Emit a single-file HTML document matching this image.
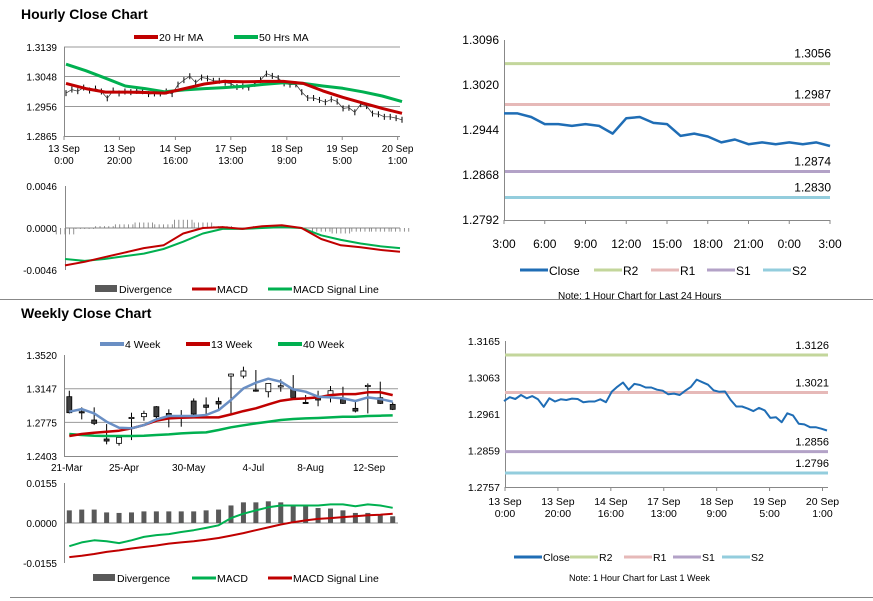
<!DOCTYPE html>
<html><head><meta charset="utf-8"><style>
html,body{margin:0;padding:0;background:#fff;}
svg{display:block;font-family:"Liberation Sans",sans-serif;}
</style></head><body>
<svg id="svg" width="873" height="601" viewBox="0 0 873 601" xmlns="http://www.w3.org/2000/svg">
<text x="21" y="19" font-size="14" font-weight="bold">Hourly Close Chart</text>
<text x="21" y="318" font-size="14" font-weight="bold">Weekly Close Chart</text>
<line x1="0" y1="299.5" x2="873" y2="299.5" stroke="#888"/>
<line x1="10" y1="597.5" x2="873" y2="597.5" stroke="#888"/>
</svg>
<script>
// ===== data =====
const hourlyClose=[1.2997,1.3008,1.3003,1.3014,1.3005,1.3011,1.3002,1.2981,1.3005,1.2996,1.3002,1.3000,1.3004,1.3003,1.2994,1.2996,1.2996,1.3002,1.2994,1.3023,1.3037,1.3049,1.3029,1.3045,1.3042,1.3035,1.3035,1.3029,1.3026,1.3016,1.3018,1.3014,1.3026,1.3037,1.3057,1.3050,1.3043,1.3027,1.3023,1.3024,1.3000,1.2982,1.2982,1.2976,1.2969,1.2978,1.2971,1.2950,1.2952,1.2938,1.2963,1.2957,1.2934,1.2932,1.2924,1.2924,1.2920,1.2915];
const ma20=[1.3027,1.3011,1.3000,1.3000,1.2999,1.2997,1.3011,1.3025,1.3033,1.3032,1.3033,1.3033,1.3027,1.3004,1.2984,1.2967,1.2950,1.2935];
const ma50=[1.3086,1.3066,1.3043,1.3019,1.3011,1.3001,1.3007,1.3011,1.3014,1.3018,1.3024,1.3029,1.3027,1.3019,1.3012,1.3001,1.2988,1.2971];
const hMacd=[-0.0041,-0.0037,-0.0032,-0.0027,-0.0022,-0.0019,-0.0006,0.0000,0.0001,-0.0001,0.0002,0.0003,0.0000,-0.0012,-0.0019,-0.0021,-0.0024,-0.0026];
const hSignal=[-0.0034,-0.0036,-0.0034,-0.0031,-0.0028,-0.0023,-0.0015,-0.0006,-0.0001,-0.0001,0.0000,0.0001,0.0000,-0.0008,-0.0013,-0.0017,-0.0020,-0.0022];
const hDiv=[-0.0007,-0.0001,0.0002,0.0004,0.0006,0.0004,0.0009,0.0006,0.0002,0.0000,0.0002,0.0002,0.0000,-0.0004,-0.0006,-0.0004,-0.0004,-0.0004];
const hourLabels=[["13 Sep","0:00"],["13 Sep","20:00"],["14 Sep","16:00"],["17 Sep","13:00"],["18 Sep","9:00"],["19 Sep","5:00"],["20 Sep","1:00"]];
const hourTickIdx=[0,9.4,18.9,28.3,37.8,47.2,56.6];
const hPriceTicks=[1.3139,1.3048,1.2956,1.2865];
const hMacdTicks=[0.0046,0.0000,-0.0046];

const wOpen=[1.3059,1.2893,1.2801,1.2591,1.2543,1.2827,1.2838,1.2948,1.2874,1.2838,1.3011,1.2967,1.3007,1.3287,1.3287,1.3133,1.3114,1.3169,1.3140,1.2996,1.3048,1.3077,1.3029,1.2930,1.3177,1.3048,1.2974];
const wClose=[1.2882,1.2885,1.2764,1.2568,1.2609,1.2830,1.2874,1.2838,1.2838,1.2838,1.2867,1.2941,1.2978,1.3309,1.3343,1.3129,1.3206,1.3180,1.3051,1.2985,1.3022,1.3125,1.2985,1.2900,1.3184,1.2985,1.2919];
const wHigh=[1.3125,1.2941,1.2941,1.2756,1.2635,1.2882,1.2904,1.2955,1.2919,1.2911,1.3040,1.3051,1.3051,1.3317,1.3391,1.3354,1.3206,1.3251,1.3298,1.3077,1.3125,1.3177,1.3169,1.3013,1.3206,1.3225,1.2996];
const wLow=[1.2874,1.2808,1.2745,1.2532,1.2517,1.2579,1.2793,1.2819,1.2720,1.2727,1.2856,1.2856,1.2919,1.2874,1.3262,1.3114,1.3051,1.3114,1.3051,1.2978,1.2953,1.2996,1.2978,1.2885,1.2874,1.2978,1.2911];
const w4=[1.2893,1.2922,1.2874,1.2782,1.2716,1.2709,1.2745,1.2808,1.2845,1.2845,1.2845,1.2856,1.2911,1.3022,1.3151,1.3214,1.3258,1.3225,1.3140,1.3114,1.3059,1.3051,1.3040,1.3011,1.3051,1.3033,1.3003];
const w13=[1.2624,1.2646,1.2661,1.2672,1.2683,1.2709,1.2745,1.2793,1.2819,1.2826,1.2830,1.2830,1.2830,1.2863,1.2900,1.2930,1.2974,1.3015,1.3033,1.3040,1.3051,1.3077,1.3088,1.3088,1.3107,1.3107,1.3077];
const w40=[1.2646,1.2635,1.2627,1.2624,1.2624,1.2624,1.2627,1.2635,1.2642,1.2653,1.2661,1.2664,1.2690,1.2720,1.2742,1.2764,1.2782,1.2801,1.2812,1.2819,1.2823,1.2830,1.2838,1.2838,1.2845,1.2849,1.2852];
const wDiv=[0.0049,0.0052,0.0052,0.0041,0.0039,0.0041,0.0045,0.0045,0.0045,0.0045,0.0045,0.0049,0.0052,0.0068,0.0080,0.0080,0.0084,0.0080,0.0067,0.0065,0.0058,0.0056,0.0049,0.0039,0.0039,0.0032,0.0026];
const wMacd=[-0.0090,-0.0075,-0.0067,-0.0071,-0.0078,-0.0067,-0.0054,-0.0047,-0.0043,-0.0035,-0.0028,-0.0019,-0.0009,0.0019,0.0036,0.0049,0.0061,0.0068,0.0068,0.0068,0.0068,0.0072,0.0072,0.0065,0.0072,0.0068,0.0059];
const wSignal=[-0.0132,-0.0127,-0.0120,-0.0112,-0.0106,-0.0099,-0.0093,-0.0087,-0.0080,-0.0075,-0.0071,-0.0065,-0.0058,-0.0049,-0.0039,-0.0028,-0.0017,-0.0006,0.0003,0.0010,0.0016,0.0019,0.0023,0.0026,0.0030,0.0032,0.0036];
const weekLabels=["21-Mar","25-Apr","30-May","4-Jul","8-Aug","12-Sep"];
const weekTickIdx=[-0.2,4.4,9.6,14.8,19.4,24.1];
const wPriceTicks=[1.3520,1.3147,1.2775,1.2403];
const wMacdTicks=[0.0155,0.0000,-0.0155];

const dayClose=[1.2972,1.2972,1.2966,1.2954,1.2954,1.2951,1.2954,1.2951,1.2938,1.2964,1.2966,1.2956,1.2954,1.2934,1.2938,1.2933,1.2923,1.2928,1.2920,1.2923,1.2920,1.2923,1.2920,1.2923,1.2917];
const dayLabels=["3:00","6:00","9:00","12:00","15:00","18:00","21:00","0:00","3:00"];
const dayTicks=[1.3096,1.3020,1.2944,1.2868,1.2792];
const dayLevels=[1.3056,1.2987,1.2874,1.2830];
const weekLevels=[1.3126,1.3021,1.2856,1.2796];
const weekTicksR=[1.3165,1.3063,1.2961,1.2859,1.2757];
const levelNames=["R2","R1","S1","S2"];

// ===== helpers =====
const svg=document.getElementById('svg');
const NS='http://www.w3.org/2000/svg';
function mk(tag,attrs,parent){const e=document.createElementNS(NS,tag);for(const k in attrs)e.setAttribute(k,attrs[k]);(parent||svg).appendChild(e);return e;}
function lin(d0,d1,r0,r1){return v=>r0+(v-d0)*(r1-r0)/(d1-d0);}
function txt(x,y,s,size,anchor,fill){const t=mk('text',{x:x,y:y,'font-size':size,'text-anchor':anchor||'start',fill:fill||'#000'});t.textContent=s;return t;}
function poly(vals,xf,yf,color,w){const pts=vals.map((v,i)=>xf(i).toFixed(1)+','+yf(v).toFixed(1)).join(' ');return mk('polyline',{points:pts,fill:'none',stroke:color,'stroke-width':w,'stroke-linejoin':'round'});}
function legendItem(x,y,color,label,w,isBar){let sw;if(isBar){sw=mk('rect',{x:x,y:y-4,width:22,height:7,fill:'#595959'});}else{sw=mk('line',{x1:x,y1:y,x2:x+24,y2:y,stroke:color,'stroke-width':w||4});}


const t=txt(x+(isBar?24:25),y+4,label,10.5);

}
function ytick(x,y,s,size){const t=txt(x,y+4,s,size,'end');

}
const RED='#c00000',GREEN='#00b050',BLUE4='#6a8fc4',CLOSE='#1f6db5';
const LVLC=['#c3d69b','#e6b9b8','#b3a2c7','#93cddd'];

// ===== Hourly price (top-left) =====
{
const y=lin(1.3139,1.2865,47,136);
const xc=i=>64+i*(336/(hourlyClose.length-1))+2;
const xm=i=>64+i*(336/(ma20.length-1))+2;
hPriceTicks.forEach((v,k)=>{ytick(57,y(v),v.toFixed(4),10);
if(k<3){const g=mk('line',{x1:64,y1:y(v),x2:400,y2:y(v),stroke:'#999','stroke-width':1});

}});
const ax=mk('path',{d:'M64.5,47V136.5H400',fill:'none',stroke:'#888'});


hourTickIdx.forEach((ti,k)=>{const px=64+ti*(336/(hourlyClose.length-1));
const tk=mk('line',{x1:px,y1:136,x2:px,y2:140,stroke:'#888'});


const a=txt(px,152,hourLabels[k][0],10,'middle');
const b=txt(px,164,hourLabels[k][1],10,'middle');});
hourlyClose.forEach((v,i)=>{const b=mk('line',{x1:xc(i),y1:y(v)-3,x2:xc(i),y2:y(v)+3,stroke:'#000','stroke-width':1});

});
const cl=poly(hourlyClose,xc,y,'#333',0.7);
const g50=poly(ma50,xm,y,GREEN,3);
const r20=poly(ma20,xm,y,RED,3);
legendItem(134,37,RED,'20 Hr MA',4);
legendItem(234,37,GREEN,'50 Hrs MA',4);
}
// ===== Hourly MACD =====
{
const y=lin(0.0046,-0.0046,186,270);
const xm=i=>65+i*(335/(hMacd.length-1));
hMacdTicks.forEach(v=>ytick(57,y(v),v.toFixed(4),10));
const ax=mk('path',{d:'M65.5,186V270',fill:'none',stroke:'#888'});
const z=mk('line',{x1:65,y1:y(0),x2:400,y2:y(0),stroke:'#888'});
const step=335/(hDiv.length-1);
hDiv.forEach((v,i)=>{for(let s=-4;s<=4;s+=2){const px=xm(i)+s*step/9;
const b=mk('line',{x1:px,y1:y(0),x2:px,y2:y(v),stroke:'#777','stroke-width':0.8});

}});
const g=poly(hSignal,xm,y,GREEN,2);
const r=poly(hMacd,xm,y,RED,2);
legendItem(95,289,'#595959','Divergence',4,true);
legendItem(192,289,RED,'MACD',3);
legendItem(268,289,GREEN,'MACD Signal Line',3);
}
// ===== Weekly price =====
{
const y=lin(1.3520,1.2403,355,456);
const n=wOpen.length;const step=(392.7-69.3)/(n-1);
const x=i=>69.3+i*step;
wPriceTicks.forEach((v,k)=>{ytick(57,y(v),v.toFixed(4),10);
if(k>0&&k<3){const g=mk('line',{x1:64,y1:y(v),x2:398,y2:y(v),stroke:'#999'});}});
const ax=mk('path',{d:'M64.5,355V456.5H398',fill:'none',stroke:'#888'});
weekTickIdx.forEach((ti,k)=>{const t=txt(x(ti),471,weekLabels[k],10,'middle');});
for(let i=0;i<n;i++){
const w=mk('line',{x1:x(i),y1:y(wHigh[i]),x2:x(i),y2:y(wLow[i]),stroke:'#000'});


const top=Math.min(y(wOpen[i]),y(wClose[i])),h=Math.max(1.2,Math.abs(y(wOpen[i])-y(wClose[i])));
const up=wClose[i]>=wOpen[i];
const b=mk('rect',{x:x(i)-2.5,y:top,width:5,height:h,fill:up?'#fff':'#404040',stroke:'#000','stroke-width':0.8});

}
const g=poly(w40,x,y,GREEN,2.5);
const r=poly(w13,x,y,RED,2.5);
const b=poly(w4,x,y,BLUE4,2.5);
legendItem(100,344,BLUE4,'4 Week',4);
legendItem(186,344,RED,'13 Week',4);
legendItem(278,344,GREEN,'40 Week',4);
}
// ===== Weekly MACD =====
{
const y=lin(0.0155,-0.0155,483,563);
const n=wDiv.length;const step=(392.7-69.3)/(n-1);
const x=i=>69.3+i*step;
wMacdTicks.forEach(v=>ytick(57,y(v),v.toFixed(4),10));
const ax=mk('path',{d:'M64.5,483V563',fill:'none',stroke:'#888'});
const z=mk('line',{x1:64,y1:y(0),x2:398,y2:y(0),stroke:'#888'});
wDiv.forEach((v,i)=>{const b=mk('rect',{x:x(i)-2.5,y:y(v),width:5,height:y(0)-y(v),fill:'#595959'});

});
const g=poly(wMacd,x,y,GREEN,2);
const r=poly(wSignal,x,y,RED,2);
legendItem(93,578,'#595959','Divergence',4,true);
legendItem(192,578,GREEN,'MACD',3);
legendItem(268,578,RED,'MACD Signal Line',3);
}
// ===== Right top: 24h =====
{
const y=lin(1.3096,1.2792,40,220);
const x=i=>504+i*(326/(dayClose.length-1));
dayTicks.forEach(v=>ytick(499,y(v),v.toFixed(4),12));
const ax=mk('path',{d:'M504.5,40V220.5H830',fill:'none',stroke:'#888'});
dayLabels.forEach((s,k)=>{const px=504+k*(326/8);
const tk=mk('line',{x1:px,y1:220,x2:px,y2:224,stroke:'#888'});
const t=txt(px,248,s,12,'middle');});
dayLevels.forEach((v,k)=>{const l=mk('line',{x1:505,y1:y(v),x2:830,y2:y(v),stroke:LVLC[k],'stroke-width':3});


const t=txt(831,y(v)-6,v.toFixed(4),12,'end');});
const c=poly(dayClose,x,y,CLOSE,2.5);
const lx=[520,594,651,707,763];const ln=['Close','R2','R1','S1','S2'];const lc=[CLOSE].concat(LVLC);
ln.forEach((s,k)=>{const l=mk('line',{x1:lx[k],y1:270,x2:lx[k]+28,y2:270,stroke:lc[k],'stroke-width':3});

const t=txt(lx[k]+29,275,s,12);});
const nt=txt(558,299,'Note: 1 Hour Chart for Last 24 Hours',10);
}
// ===== Right bottom: 1 week =====
{
const y=lin(1.3165,1.2757,341,487);
const x=i=>504+i*(323/(hourlyClose.length-1));
weekTicksR.forEach(v=>ytick(500,y(v),v.toFixed(4),10.5));
const ax=mk('path',{d:'M505.5,341V487.5H828',fill:'none',stroke:'#888'});
hourLabels.forEach((s,k)=>{const px=505+k*(317.5/6);
const tk=mk('line',{x1:px,y1:487,x2:px,y2:491,stroke:'#888'});
const a=txt(px,505,s[0],10.5,'middle');
const b=txt(px,517,s[1],10.5,'middle');});
weekLevels.forEach((v,k)=>{const l=mk('line',{x1:505,y1:y(v),x2:828,y2:y(v),stroke:LVLC[k],'stroke-width':3});


const t=txt(829,y(v)-6,v.toFixed(4),11,'end');});
const c=poly(hourlyClose,x,y,CLOSE,2);
const lx=[514,570,624,673,722];const ln=['Close','R2','R1','S1','S2'];const lc=[CLOSE].concat(LVLC);
ln.forEach((s,k)=>{const l=mk('line',{x1:lx[k],y1:557,x2:lx[k]+28,y2:557,stroke:lc[k],'stroke-width':3});

const t=txt(lx[k]+29,561,s,10.5);});
const nt=txt(569,581,'Note: 1 Hour Chart for  Last 1 Week',9);
}
</script>
</body></html>
